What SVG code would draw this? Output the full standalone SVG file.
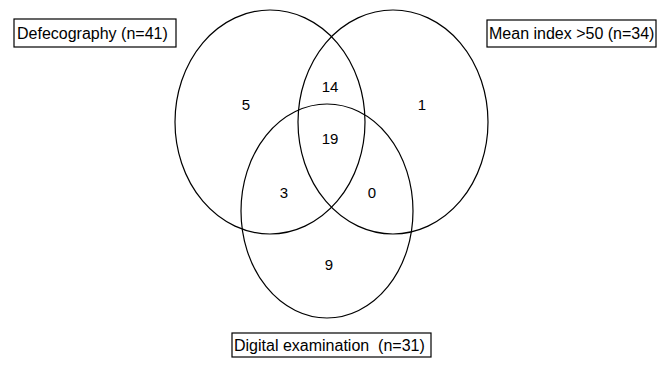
<svg xmlns="http://www.w3.org/2000/svg" width="658" height="366" viewBox="0 0 658 366">
<style>
.e{fill:none;stroke:#000;stroke-width:1.2}
.b{fill:#fff;stroke:#000;stroke-width:1.2}
.t{font-family:"Liberation Sans",Arial,sans-serif;font-size:16px;fill:#000}
.n{font-family:"Liberation Sans",Arial,sans-serif;font-size:15px;fill:#000;text-anchor:middle}
</style>
<rect width="658" height="366" fill="#fff"/>
<g id="sets">
<ellipse id="defecography-set" class="e" cx="270" cy="122" rx="95" ry="112"/>
<ellipse id="mean-index-set" class="e" cx="393" cy="122" rx="95" ry="112"/>
<ellipse id="digital-set" class="e" cx="327" cy="211" rx="86" ry="107"/>
</g>
<g id="counts">
<text class="n" x="246" y="110">5</text>
<text class="n" x="330" y="92">14</text>
<text class="n" x="422" y="110">1</text>
<text class="n" x="330" y="144">19</text>
<text class="n" x="284" y="198">3</text>
<text class="n" x="372" y="198">0</text>
<text class="n" x="329" y="270">9</text>
</g>
<g id="label-defecography">
<rect class="b" x="14" y="19" width="162" height="28"/>
<text class="t" x="17" y="39">Defecography (n=41)</text>
</g>
<g id="label-mean-index">
<rect class="b" x="487" y="20" width="169" height="27"/>
<text class="t" x="489" y="39">Mean index &gt;50 (n=34)</text>
</g>
<g id="label-digital">
<rect class="b" x="232" y="333" width="199" height="24"/>
<text class="t" x="234" y="351" xml:space="preserve">Digital examination  (n=31)</text>
</g>
<g id="connectors"/>
</svg>
